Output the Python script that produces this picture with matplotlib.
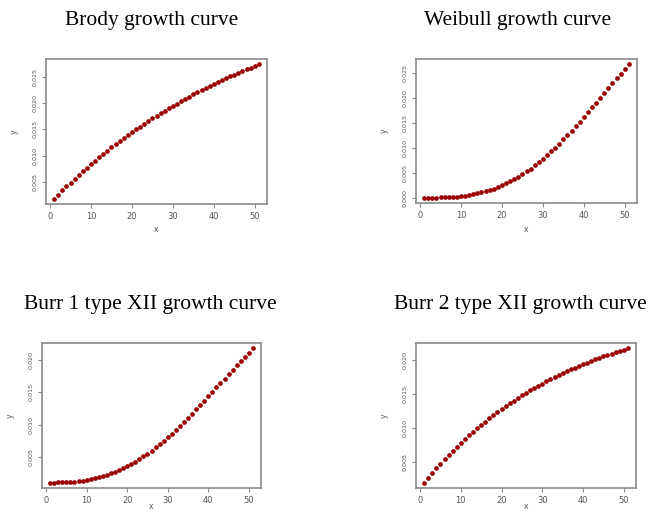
import matplotlib
matplotlib.use("Agg")
import matplotlib.pyplot as plt
import numpy as np

# x values, 1..51 (same for all four panels)
x = list(range(1, 52))

brody = [0.00190, 0.00268, 0.00345, 0.00420, 0.00494, 0.00566, 0.00637, 0.00706, 0.00774, 0.00841,
         0.00907, 0.00971, 0.01035, 0.01097, 0.01158, 0.01217, 0.01276, 0.01333, 0.01390, 0.01445,
         0.01499, 0.01553, 0.01605, 0.01656, 0.01707, 0.01756, 0.01804, 0.01852, 0.01899, 0.01944,
         0.01989, 0.02033, 0.02077, 0.02119, 0.02161, 0.02202, 0.02242, 0.02281, 0.02320, 0.02357,
         0.02395, 0.02431, 0.02467, 0.02502, 0.02536, 0.02570, 0.02603, 0.02636, 0.02668, 0.02699,
         0.02730]

weibull = [0.0000003, 0.0000026, 0.0000086, 0.0000205, 0.0000399, 0.0000690, 0.0001095, 0.0001633, 0.0002324, 0.0003185,
           0.0004233, 0.0005488, 0.0006965, 0.0008681, 0.0010652, 0.0012892, 0.0015417, 0.0018237, 0.0021367, 0.0024815,
           0.0028592, 0.0032705, 0.0037158, 0.0041958, 0.0047113, 0.0052618, 0.0058469, 0.0064669, 0.0071211, 0.0078086,
           0.0085295, 0.0092826, 0.0100612, 0.0108726, 0.0117099, 0.0125710, 0.0134568, 0.0143639, 0.0152885, 0.0162300,
           0.0171798, 0.0181441, 0.0191156, 0.0200907, 0.0210681, 0.0220434, 0.0230157, 0.0239806, 0.0249349, 0.0258763,
           0.0268019]

burr1 = [0.00108, 0.00109, 0.00110, 0.00111, 0.00114, 0.00118, 0.00123, 0.00130, 0.00138, 0.00148,
         0.00160, 0.00174, 0.00189, 0.00207, 0.00227, 0.00249, 0.00274, 0.00301, 0.00330, 0.00361,
         0.00395, 0.00432, 0.00471, 0.00512, 0.00556, 0.00602, 0.00650, 0.00700, 0.00753, 0.00807,
         0.00864, 0.00922, 0.00983, 0.01044, 0.01107, 0.01172, 0.01237, 0.01303, 0.01371, 0.01438,
         0.01507, 0.01576, 0.01644, 0.01713, 0.01781, 0.01849, 0.01917, 0.01983, 0.02049, 0.02114,
         0.02178]

burr2 = [0.00188, 0.00261, 0.00332, 0.00401, 0.00468, 0.00533, 0.00597, 0.00658, 0.00718, 0.00777,
         0.00833, 0.00888, 0.00942, 0.00994, 0.01045, 0.01094, 0.01142, 0.01189, 0.01234, 0.01278,
         0.01321, 0.01363, 0.01403, 0.01442, 0.01481, 0.01518, 0.01554, 0.01590, 0.01624, 0.01657,
         0.01689, 0.01721, 0.01752, 0.01781, 0.01810, 0.01838, 0.01866, 0.01892, 0.01918, 0.01944,
         0.01968, 0.01992, 0.02015, 0.02037, 0.02059, 0.02081, 0.02101, 0.02121, 0.02141, 0.02160,
         0.02178]

titles = ["Brody growth curve", "Weibull growth curve",
          "Burr 1 type XII growth curve", "Burr 2 type XII growth curve"]
x_ticks = [0, 10, 20, 30, 40, 50]
y_ticks = [[0.005, 0.010, 0.015, 0.020, 0.025],
           [0.000, 0.005, 0.010, 0.015, 0.020, 0.025],
           [0.005, 0.010, 0.015, 0.020],
           [0.005, 0.010, 0.015, 0.020]]

W, H = 648, 512
fig = plt.figure(figsize=(W / 100, H / 100), dpi=100)

# axes boxes in pixels: left, top, right, bottom
boxes = [(46, 59, 267, 204), (416, 59, 637, 203), (42, 343, 261, 488), (416, 343, 636, 488)]
title_pos = [(152, 25), (518, 25), (150, 309), (520, 309)]
series = [brody, weibull, burr1, burr2]

grey = "#8a8a8a"
for i in range(4):
    l, t, r, b = boxes[i]
    ax = fig.add_axes([l / W, (H - b) / H, (r - l) / W, (b - t) / H])
    ax.plot(x, series[i], "o", color="#9a0000", ms=3.4, mew=0)
    ax.set_xlim(-1, 53)
    lo, hi = min(series[i]), max(series[i])
    pad = (hi - lo) * 0.04
    ax.set_ylim(lo - pad, hi + pad)
    ax.set_xticks(x_ticks)
    ax.set_xticklabels([str(v) for v in x_ticks], fontsize=6, color="#555555")
    ax.set_yticks(y_ticks[i])
    ax.set_yticklabels(["%.3f" % v for v in y_ticks[i]], fontsize=4.6, color="#555555",
                       rotation=90, va="center")
    for s in ax.spines.values():
        s.set_color(grey)
        s.set_linewidth(1.2)
    ax.tick_params(direction="out", length=3, width=0.8, color=grey, pad=3)
    ax.set_ylabel("y", fontsize=5.5, color="#555555", labelpad=10)
    if i < 2:
        ax.set_xlabel("x", fontsize=5.5, color="#555555", labelpad=3)
    else:
        # bottom row: the x label sits right at the lower edge of the image
        fig.text((l + r) / 2 / W, 1 / H, "x", ha="center", va="bottom",
                 fontsize=5.5, color="#555555")
    tx, ty = title_pos[i]
    fig.text(tx / W, (H - ty) / H, titles[i], ha="center", va="baseline",
             family="Liberation Serif", fontsize=15.5, color="black")

fig.savefig("out.png", dpi=100)
